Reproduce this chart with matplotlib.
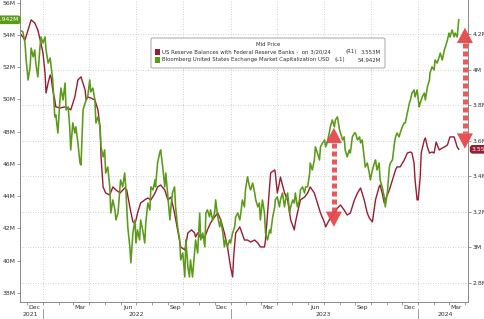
import matplotlib
matplotlib.use('Agg')
import matplotlib.pyplot as plt
import matplotlib.dates as mdates
import matplotlib.transforms as mtransforms
from matplotlib.patches import FancyBboxPatch, Rectangle
import numpy as np
import pandas as pd

# ---------------- data ----------------
start = pd.Timestamp('2022-01-01')

green_days = [-45,-39,-35,-33,-29,-25,-23,-19,-16,-14,-10,-6,-4,0,4,6,10,14,16,19,23,25,29,33,35,39,43,45,49,52,54,58,62,64,68,72,74,78,82,84,87,91,93,97,101,103,107,111,113,117,120,122,126,130,132,136,140,142,146,150,151,155,159,161,165,169,171,175,179,181,184,188,190,194,198,200,204,208,210,214,218,219,223,227,229,233,237,239,243,247,249,252,256,258,262,266,268,272,276,278,282,285,287,291,295,297,301,305,307,311,315,317,320,324,326,330,334,336,340,344,346,350,353,355,359,363,365,369,373,375,379,383,385,388,392,394,398,402,404,408,412,414,418,421,423,427,431,433,437,441,443,447,451,452,456,460,462,466,470,472,476,480,482,486,489,491,495,499,501,505,509,511,515,519,520,524,528,530,534,538,540,544,548,550,553,557,559,563,567,569,573,577,579,583,586,588,592,596,598,602,606,608,612,616,618,621,625,627,631,635,637,641,645,647,650,654,656,660,664,666,670,674,676,680,684,686,689,693,695,699,703,705,709,713,715,718,722,724,728,732,734,738,742,744,748,752,753,757,761,763,767,771,773,777,781,783,787,790,792,796,800,802,806,809]
green_vals = [54.31,54.19,53.50,52.57,51.21,52.02,53.19,52.64,53.07,52.26,51.40,53.19,53.88,53.50,53.88,53.07,52.26,52.57,52.02,51.21,48.92,49.04,47.92,49.97,50.71,49.97,51.02,49.35,49.54,48.30,46.87,48.55,47.92,48.30,47.31,46.06,45.94,49.35,49.78,49.97,50.16,51.21,50.47,50.71,49.97,48.55,48.92,48.30,47.06,46.44,46.87,45.44,45.81,44.58,42.96,43.77,43.15,42.53,42.96,44.58,45.01,44.58,45.44,44.58,42.10,40.86,39.87,41.72,42.53,41.10,41.91,41.29,42.53,41.91,41.10,42.34,43.58,43.15,44.58,44.39,45.01,44.58,46.06,46.68,46.87,45.81,44.58,45.44,43.96,42.53,43.34,44.20,44.58,43.34,42.10,41.29,40.05,40.48,38.99,41.29,39.62,38.99,40.05,38.99,40.48,41.29,40.48,42.96,41.29,41.72,40.86,42.96,43.15,42.72,43.15,42.53,42.96,43.77,42.72,42.10,42.53,41.72,40.86,41.29,40.86,41.29,41.10,41.72,42.10,42.72,42.96,42.53,42.96,43.77,43.34,44.39,45.20,44.58,44.39,44.82,44.20,43.77,43.34,43.58,42.53,43.77,42.96,41.72,41.29,41.91,41.72,42.72,43.34,43.77,43.96,43.34,43.77,44.20,43.34,43.77,44.20,42.96,43.34,43.77,43.58,44.20,43.34,43.77,44.39,44.58,44.20,44.58,44.58,45.44,46.06,45.63,46.25,47.06,46.68,46.25,47.06,47.31,47.49,47.06,47.31,47.92,48.30,48.73,48.30,48.73,48.92,48.11,47.92,47.49,47.68,46.87,46.44,46.87,46.68,47.68,47.92,47.92,47.49,47.68,47.31,47.49,46.44,45.81,46.06,45.44,45.01,45.63,46.06,46.25,45.63,46.06,45.01,44.58,43.96,43.34,44.20,45.81,46.06,46.25,47.31,47.68,47.92,47.68,47.92,48.30,48.55,48.55,49.16,49.78,49.97,50.40,50.59,50.16,50.59,49.54,49.78,50.16,50.40,49.97,50.78,51.21,51.64,52.02,51.83,52.45,52.26,52.64,52.88,52.45,53.07,53.26,53.69,54.12,53.88,54.31,53.88,54.12,53.88,54.942]

red_days = [-49,-35,-29,-23,-16,-10,-4,0,4,6,10,14,16,19,23,25,33,43,49,54,62,68,74,82,84,87,93,101,107,111,113,117,122,130,136,142,150,159,163,169,175,179,181,184,190,198,204,210,218,223,229,237,243,249,256,262,268,276,282,289,295,297,301,307,315,320,326,334,340,346,353,359,365,369,371,375,383,392,398,404,412,418,423,431,433,437,441,443,451,452,456,460,462,470,476,482,489,491,495,501,509,515,520,528,534,540,548,550,557,567,573,579,586,592,598,606,612,618,625,631,635,641,647,654,656,660,664,666,674,680,686,689,695,703,709,715,718,722,724,728,730,734,736,742,744,748,752,757,761,765,771,777,781,787,790,792,800,806,809]
red_vals = [4.225,4.169,4.225,4.282,4.265,4.225,4.152,4.096,3.983,3.870,3.927,3.972,3.955,3.887,3.831,3.792,3.786,3.792,3.786,3.775,3.848,3.944,3.961,3.887,3.831,3.848,3.842,3.831,3.775,3.679,3.510,3.341,3.307,3.296,3.341,3.324,3.307,3.335,3.324,3.228,3.144,3.138,3.155,3.194,3.251,3.268,3.279,3.268,3.307,3.341,3.352,3.324,3.268,3.284,3.194,3.099,3.003,2.986,3.082,3.099,3.082,3.059,3.082,3.054,3.059,3.099,3.138,3.172,3.194,3.155,3.082,3.003,2.890,2.834,2.947,3.082,3.116,3.042,3.042,3.031,3.042,3.025,3.003,3.003,3.042,3.194,3.341,3.420,3.437,3.420,3.307,3.363,3.397,3.307,3.268,3.155,3.099,3.138,3.194,3.268,3.284,3.307,3.341,3.307,3.251,3.194,3.138,3.116,3.155,3.194,3.222,3.239,3.211,3.183,3.194,3.268,3.307,3.335,3.268,3.194,3.166,3.144,3.268,3.341,3.352,3.307,3.251,3.268,3.324,3.380,3.437,3.454,3.454,3.493,3.532,3.538,3.532,3.476,3.380,3.268,3.268,3.397,3.532,3.606,3.617,3.566,3.532,3.538,3.532,3.594,3.549,3.560,3.566,3.577,3.606,3.623,3.623,3.566,3.553]

left_ticks = [38, 40, 42, 44, 46, 48, 50, 52, 54, 56]
left_labels = ['38M', '40M', '42M', '44M', '46M', '48M', '50M', '52M', '54M', '56M']
right_ticks = [2.8, 3.0, 3.2, 3.4, 3.6, 3.8, 4.0, 4.2]
right_labels = ['2.8M', '3M', '3.2M', '3.4M', '3.6M', '3.8M', '4M', '4.2M']
month_labels = ['Dec', 'Mar', 'Jun', 'Sep', 'Dec', 'Mar', 'Jun', 'Sep', 'Dec', 'Mar']
month_dates = ['2021-12-15', '2022-03-15', '2022-06-15', '2022-09-15', '2022-12-15',
               '2023-03-15', '2023-06-15', '2023-09-15', '2023-12-15', '2024-03-15']
year_labels = ['2021', '2022', '2023', '2024']
year_pos = ['2021-12-08', '2022-07-01', '2023-07-01', '2024-02-22']
year_breaks = ['2022-01-01', '2023-01-01', '2024-01-01']

legend_title = 'Mid Price'
red_name = 'US Reserve Balances with Federal Reserve Banks -  on 3/20/24'
green_name = 'Bloomberg United States Exchange Market Capitalization USD'
red_tag, green_tag = '(R1)', '(L1)'
red_last, green_last = '3.553M', '54.942M'

# arrows (date, top, bottom) on left-axis scale
arrow_dates = ['2023-07-21', '2024-04-01']
arrow_top = [48.25, 54.45]
arrow_bot = [42.10, 46.95]
head_len = 0.95  # arrow head length, in left-axis units

# ---------------- style ----------------
RED = '#971d34'
GREEN = '#5c9a1b'
ARROW = '#e5484c'
GRID = '#c4c4c4'
TXT = '#333333'
FS = 4.4
LFS = 3.9
plt.rcParams['font.family'] = ['DejaVu Sans']

W, H = 485, 319
fig = plt.figure(figsize=(W / 100, H / 100), dpi=100)
fig.patch.set_facecolor('white')

def fx(px):
    return px / W

def fy(py):
    return 1 - py / H

ax2 = fig.add_axes([fx(20), fy(302), fx(468) - fx(20), fy(0) - fy(302)])
ax = ax2.twinx()
ax.yaxis.tick_left()
ax.yaxis.set_label_position('left')
ax2.yaxis.tick_right()
ax2.yaxis.set_label_position('right')
ax.set_zorder(ax2.get_zorder() + 1)
ax.patch.set_visible(False)

green_dates = start + pd.to_timedelta(green_days, unit='D')
red_dates = start + pd.to_timedelta(red_days, unit='D')

ax2.plot(red_dates, red_vals, color=RED, lw=1.0, solid_joinstyle='round')
ax.plot(green_dates, green_vals, color=GREEN, lw=1.15, solid_joinstyle='round')

xmin = start - pd.Timedelta(days=44.7)
xmax = start + pd.Timedelta(days=827)
for a in (ax, ax2):
    a.set_xlim(xmin, xmax)
ax.set_ylim(37.44, 56.17)
ax2.set_ylim(2.693, 4.394)

for a in (ax, ax2):
    a.spines['top'].set_visible(False)
    for s in ('left', 'right', 'bottom'):
        a.spines[s].set_color('#8a8a8a')
        a.spines[s].set_linewidth(0.6)

ax.set_yticks(left_ticks)
ax.set_yticklabels(left_labels)
ax2.set_yticks(right_ticks)
ax2.set_yticklabels(right_labels)
ax.tick_params(axis='y', direction='out', length=2.5, width=0.5, color='#777777',
               labelsize=FS, labelcolor=TXT, pad=1)
ax2.tick_params(axis='y', direction='out', length=2.5, width=0.5, color='#777777',
                labelsize=FS, labelcolor=TXT, pad=1)

ax.xaxis.set_visible(False)
ax2.set_xticks(pd.to_datetime(month_dates))
ax2.set_xticklabels(month_labels)
ax2.xaxis.set_minor_locator(mdates.MonthLocator())
ax2.tick_params(axis='x', which='major', length=0, labelsize=FS, labelcolor=TXT, pad=2)
ax2.tick_params(axis='x', which='minor', length=2, width=0.5, color='#777777')

for v in right_ticks:
    ax2.axhline(v, color=GRID, lw=0.6, ls=(0, (1, 2)), zorder=0)
for d in pd.date_range('2022-01-01', '2024-03-31', freq='QS'):
    ax2.axvline(d, color=GRID, lw=0.6, ls=(0, (1, 2)), zorder=0)

blend = mtransforms.blended_transform_factory(ax2.transData, ax2.transAxes)
for lab, pos in zip(year_labels, year_pos):
    ax2.text(pd.Timestamp(pos), -0.040, lab, transform=blend, ha='center', va='center',
             fontsize=FS, color=TXT, clip_on=False)
for b in year_breaks:
    d = mdates.date2num(pd.Timestamp(b))
    ax2.plot([d, d], [-0.022, -0.07], transform=blend, color='#777777', lw=0.5, clip_on=False)

# arrows: dashed shaft + solid triangular heads
for d, top, bot in zip(arrow_dates, arrow_top, arrow_bot):
    d = pd.Timestamp(d)
    ax.plot([d, d], [top - head_len, bot + head_len], color=ARROW, alpha=0.9,
            lw=3.6, dashes=(1.0, 0.6), solid_capstyle='butt', dash_capstyle='butt',
            clip_on=False, zorder=5)
    for tip, base in ((top, bot), (bot, top)):
        ax.annotate('', xy=(d, tip), xytext=(d, base),
                    arrowprops=dict(arrowstyle='-|>,head_length=1.1,head_width=0.58', lw=0,
                                    color=ARROW, alpha=0.95, shrinkA=0, shrinkB=0,
                                    mutation_scale=10), annotation_clip=False, zorder=6)

bl = mtransforms.blended_transform_factory(ax.transAxes, ax.transData)
ax.text(-0.002, green_vals[-1], green_last, transform=bl, ha='right', va='center',
        fontsize=FS, color='white', clip_on=False,
        bbox=dict(boxstyle='round,pad=0.3,rounding_size=0.5', fc=GREEN, ec='none'))
br = mtransforms.blended_transform_factory(ax2.transAxes, ax2.transData)
ax2.text(1.008, red_vals[-1], red_last, transform=br, ha='left', va='center',
         fontsize=FS, color='white', clip_on=False, zorder=10,
         bbox=dict(boxstyle='round,pad=0.3,rounding_size=0.5', fc=RED, ec='none'))

box = FancyBboxPatch((fx(151), fy(68)), fx(385) - fx(151), fy(38) - fy(68),
                     boxstyle='round,pad=0,rounding_size=0.004', transform=fig.transFigure,
                     fc='white', ec='#9a9a9a', lw=0.6, zorder=20)
fig.add_artist(box)
fig.text(fx(268), fy(45), legend_title, ha='center', va='center', fontsize=LFS, color=TXT, zorder=21)
fig.add_artist(Rectangle((fx(155), fy(55)), fx(5), fy(49) - fy(55), transform=fig.transFigure,
                         fc=RED, ec='none', zorder=21))
fig.add_artist(Rectangle((fx(155), fy(63)), fx(5), fy(57) - fy(63), transform=fig.transFigure,
                         fc=GREEN, ec='none', zorder=21))
fig.text(fx(162), fy(52), red_name, ha='left', va='center', fontsize=LFS, color=TXT, zorder=21)
fig.text(fx(162), fy(60), green_name, ha='left', va='center', fontsize=LFS, color=TXT, zorder=21)
fig.text(fx(345), fy(52), red_tag, ha='left', va='center', fontsize=LFS, color=TXT, zorder=21)
fig.text(fx(335), fy(60), green_tag, ha='left', va='center', fontsize=LFS, color=TXT, zorder=21)
fig.text(fx(381), fy(52), red_last, ha='right', va='center', fontsize=LFS, color=TXT, zorder=21)
fig.text(fx(381), fy(60), green_last, ha='right', va='center', fontsize=LFS, color=TXT, zorder=21)

fig.savefig('out.png', dpi=100, facecolor='white')
